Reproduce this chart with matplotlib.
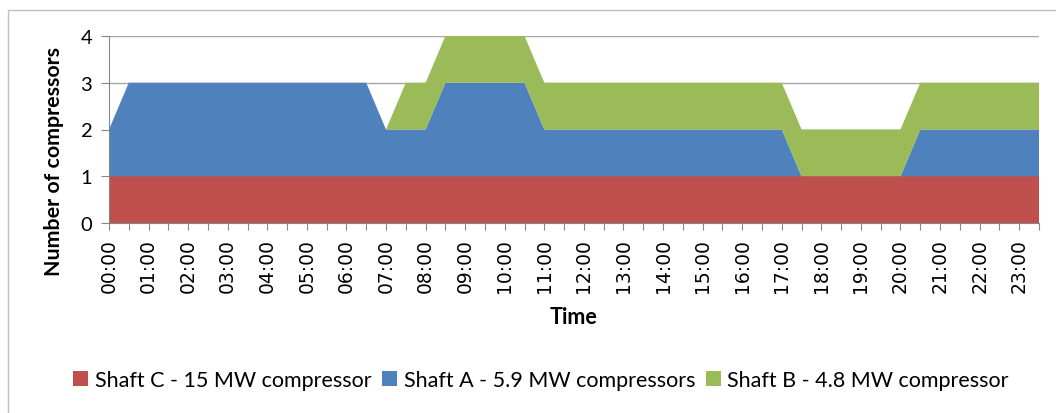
import matplotlib
matplotlib.use("Agg")
import matplotlib.pyplot as plt
from matplotlib.patches import Patch, Rectangle

# Half-hourly compressor counts, 00:00 .. 23:30
shaft_c = [1, 1, 1, 1, 1, 1, 1, 1, 1, 1, 1, 1, 1, 1, 1, 1,
           1, 1, 1, 1, 1, 1, 1, 1, 1, 1, 1, 1, 1, 1, 1, 1,
           1, 1, 1, 1, 1, 1, 1, 1, 1, 1, 1, 1, 1, 1, 1, 1]
shaft_a = [1, 2, 2, 2, 2, 2, 2, 2, 2, 2, 2, 2, 2, 2, 1, 1,
           1, 2, 2, 2, 2, 2, 1, 1, 1, 1, 1, 1, 1, 1, 1, 1,
           1, 1, 1, 0, 0, 0, 0, 0, 0, 1, 1, 1, 1, 1, 1, 1]
shaft_b = [0, 0, 0, 0, 0, 0, 0, 0, 0, 0, 0, 0, 0, 0, 0, 1,
           1, 1, 1, 1, 1, 1, 1, 1, 1, 1, 1, 1, 1, 1, 1, 1,
           1, 1, 1, 1, 1, 1, 1, 1, 1, 1, 1, 1, 1, 1, 1, 1]

hour_labels = ["00:00", "01:00", "02:00", "03:00", "04:00", "05:00",
               "06:00", "07:00", "08:00", "09:00", "10:00", "11:00",
               "12:00", "13:00", "14:00", "15:00", "16:00", "17:00",
               "18:00", "19:00", "20:00", "21:00", "22:00", "23:00"]

series_names = ["Shaft C - 15 MW compressor",
                "Shaft A - 5.9 MW compressors",
                "Shaft B - 4.8 MW compressor"]
colors = ["#C0504D", "#4F81BD", "#9BBB59"]

x = list(range(len(shaft_c)))

fig = plt.figure(figsize=(10.56, 4.14), dpi=100)
ax = fig.add_axes([109 / 1056, 1 - 224 / 414, 930 / 1056, 187 / 414])

ax.stackplot(x, shaft_c, shaft_a, shaft_b, colors=colors, linewidth=0, zorder=2)

ax.set_xlim(0, len(x) - 1)
ax.set_ylim(0, 4)
ax.set_yticks([0, 1, 2, 3, 4])
ax.yaxis.grid(True, color="#A6A6A6", linewidth=1.0, zorder=0)
ax.set_axisbelow(True)

ax.set_xticks(x)
ax.set_xticklabels([hour_labels[i // 2] if i % 2 == 0 else "" for i in x],
                   rotation=90, fontsize=13.5, family="DejaVu Sans")
ax.tick_params(axis="x", direction="out", length=5, color="#868686", pad=6)
ax.tick_params(axis="y", direction="out", length=6, color="#868686", pad=6,
               labelsize=14.5)
for lbl in ax.get_yticklabels():
    lbl.set_family("Lato")

for side in ["top", "right"]:
    ax.spines[side].set_visible(False)
for side in ["left", "bottom"]:
    ax.spines[side].set_color("#868686")

# axis titles
fig.text(54 / 1056, 1 - 161 / 414, "Number of compressors", rotation=90,
         ha="center", va="center", fontsize=15.4, fontweight="bold",
         family="Lato")
fig.text(573 / 1056, 1 - 318 / 414, "Time", ha="center", va="center",
         fontsize=15.5, fontweight="bold", family="Lato")

handles = [Patch(facecolor=c, edgecolor="none") for c in colors]
fig.legend(handles, series_names, loc="center", ncol=3,
           bbox_to_anchor=(541 / 1056, 1 - 381 / 414), frameon=False,
           prop={"family": "Lato", "size": 15.5},
           handlelength=0.7, handleheight=0.7, handletextpad=0.3,
           columnspacing=0.5)

# chart area frame
fig.patches.append(Rectangle((8 / 1056, -0.1), 1.1, 1.1 - 11 / 414,
                             transform=fig.transFigure, fill=False,
                             edgecolor="#BFBFBF", linewidth=1.0))

fig.savefig("out.png", dpi=100)
